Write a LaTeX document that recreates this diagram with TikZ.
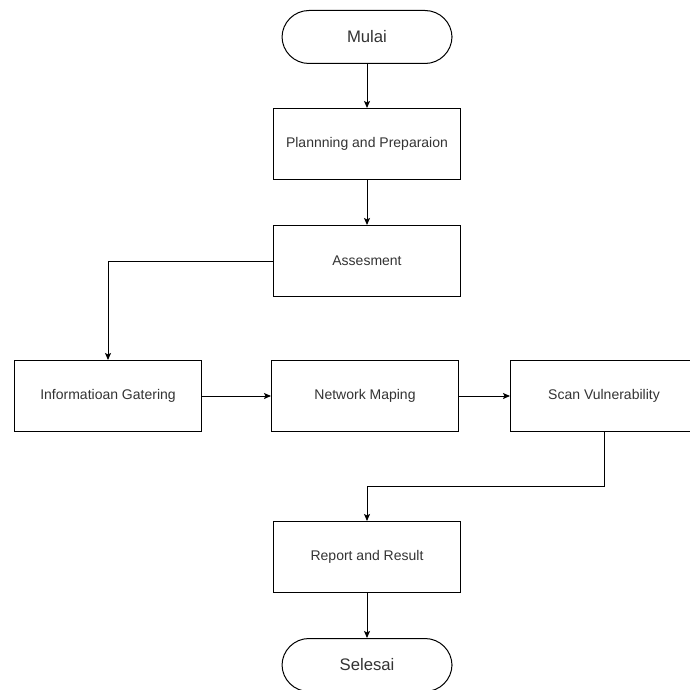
\documentclass[tikz,border=0pt]{standalone}
\usepackage{fontspec}
\setmainfont{Liberation Sans}
\usetikzlibrary{shapes,arrows.meta,positioning,calc}

\begin{document}
\begin{tikzpicture}[
    x=1pt, y=-1pt,
    node distance=44pt,
    box/.style={draw, line width=1pt, minimum width=187pt, minimum height=71pt, align=center, text=black!80, font=\fontsize{14}{17}\selectfont},
    terminal/.style={draw, line width=1pt, rounded corners=27pt, minimum width=170pt, minimum height=53pt, text=black!80, font=\fontsize{16.7}{20}\selectfont},
    arrow/.style={-{Stealth[length=7pt,width=6pt,inset=1.5pt]}, line width=1pt}
]
\useasboundingbox (0,0) rectangle (689,690);

% Start
\node[terminal] (mulai) at (367,37) {Mulai};

% Planning
\node[box, below=44pt of mulai] (plan) {Plannning and Preparaion};

% Assesment
\node[box, below=45pt of plan] (assess) {Assesment};

% Middle row
\node[box, below=63pt of assess, xshift=-2pt] (network) {Network Maping};
\node[box, left=69pt of network] (info) {Informatioan Gatering};
\node[box, right=51pt of network] (scan) {Scan Vulnerability};

% Report
\node[box, below=89pt of network, xshift=2pt] (report) {Report and Result};

% End
\node[terminal, below=45pt of report] (selesai) {Selesai};

% Arrows
\draw[arrow] (mulai) -- (plan);
\draw[arrow] (plan) -- (assess);
\draw[arrow] (assess.west) -| (info.north);
\draw[arrow] (info) -- (network);
\draw[arrow] (network) -- (scan);
\draw[arrow] (scan.south) -- ++(0,54) -| (report.north);
\draw[arrow] (report) -- (selesai);

\end{tikzpicture}
\end{document}
